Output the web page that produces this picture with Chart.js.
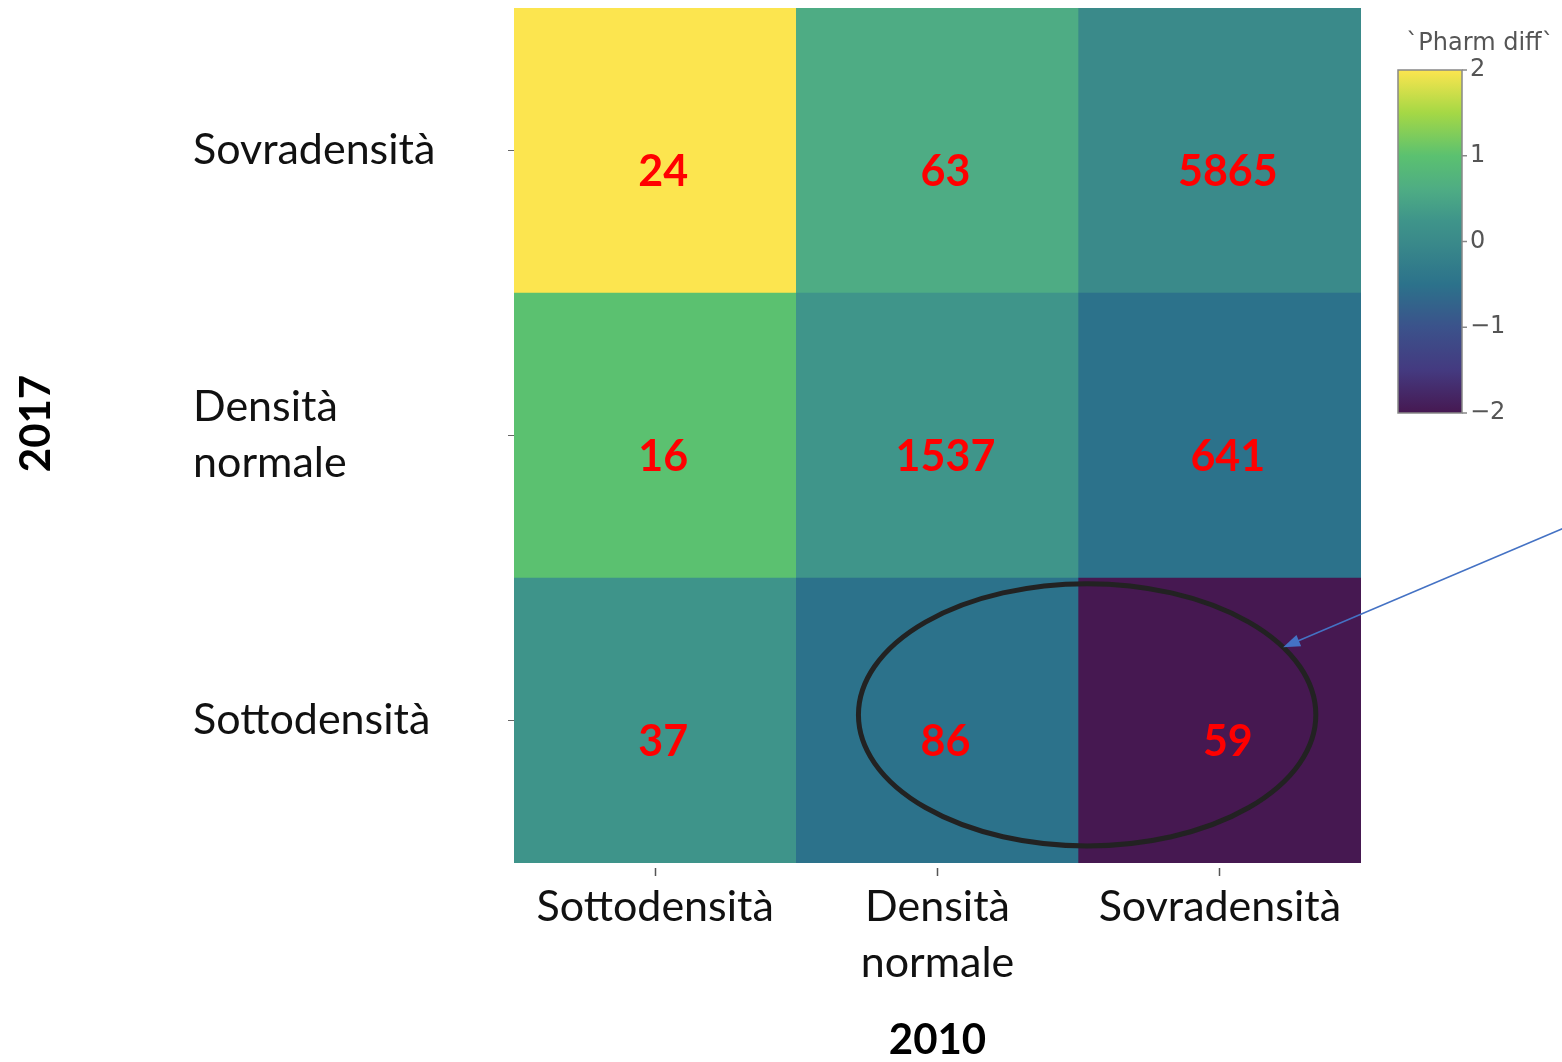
<!DOCTYPE html>
<html>
<head>
<meta charset="utf-8">
<script src="https://cdn.jsdelivr.net/npm/chart.js@4.4.0/dist/chart.umd.min.js"></script>
<style>
    html, body { margin: 0; padding: 0; background: #fff; }
    #wrap { width: 1562px; height: 1062px; }
</style>
</head>
<body>
<div id="wrap"><canvas id="heat"></canvas></div>
<script>
// ==================== DATI ====================

// colonne = 2010, righe = 2017 (righe dal basso verso l'alto)
const xCategories = ['Sottodensità', ['Densità', 'normale'], 'Sovradensità'];
const yCategories = ['Sottodensità', ['Densità', 'normale'], 'Sovradensità'];

// `Pharm diff` per riga del 2017, colonne nell'ordine di xCategories
const pharmDiffSotto   = [0.22, -0.5, -2];
const pharmDiffNormale = [1, 0.25, -0.5];
const pharmDiffSovra   = [2, 0.6, 0];

// numeri scritti nelle celle
const countsSotto   = [37, 86, 59];
const countsNormale = [16, 1537, 641];
const countsSovra   = [24, 63, 5865];

const colorbarTicks = [2, 1, 0, -1, -2];
const colorbarMin = -2;
const colorbarMax = 2;

const pharmDiffRows = [pharmDiffSotto, pharmDiffNormale, pharmDiffSovra];
const countRows = [countsSotto, countsNormale, countsSovra];

// ==================== SCALA COLORI (viridis sbiadita) ====================

const COLOR_STOPS = [
    [-2, [70, 24, 81]],
    [-1.5, [68, 58, 128]],
    [-1, [59, 82, 139]],
    [-0.5, [44, 114, 139]],
    [0, [58, 138, 138]],
    [0.25, [63, 149, 138]],
    [0.6, [78, 172, 132]],
    [1, [91, 193, 112]],
    [1.5, [165, 216, 69]],
    [2, [252, 229, 79]]
];

function colorFor(v) {
    for (let i = 0; i < COLOR_STOPS.length - 1; i++) {
        const [v0, c0] = COLOR_STOPS[i];
        const [v1, c1] = COLOR_STOPS[i + 1];
        if (v <= v1) {
            const t = Math.max(0, (v - v0) / (v1 - v0));
            const c = c0.map((ch, k) => Math.round(ch + (c1[k] - ch) * t));
            return `rgb(${c[0]},${c[1]},${c[2]})`;
        }
    }
    const c = COLOR_STOPS[COLOR_STOPS.length - 1][1];
    return `rgb(${c[0]},${c[1]},${c[2]})`;
}

// ==================== PLUGIN ====================

const overlayPlugin = {
    id: 'overlay',
    afterDatasetsDraw(chart) {
        const ctx = chart.ctx;
        const area = chart.chartArea;
        const xs = chart.scales.x;
        const ys = chart.scales.y;

        // numeri nelle celle
        ctx.save();
        ctx.font = 'bold 43px Lato';
        ctx.fillStyle = '#ff0000';
        ctx.textAlign = 'center';
        ctx.textBaseline = 'middle';
        countRows.forEach((row, r) => {
            const meta = chart.getDatasetMeta(r);
            row.forEach((n, i) => {
                const p = meta.data[i].getCenterPoint();
                ctx.fillText(String(n), p.x + 8, p.y + 22);
            });
        });
        ctx.restore();

        // ellisse attorno alle celle evidenziate
        const colW = xs.getPixelForValue(1) - xs.getPixelForValue(0);
        const rowH = ys.getPixelForValue(0) - ys.getPixelForValue(1);
        const cx = xs.getPixelForValue(0) + colW * 1.53;
        const cy = ys.getPixelForValue(0.52);
        const rx = colW * 0.81;
        const ry = rowH * 0.46;
        ctx.save();
        ctx.strokeStyle = '#222';
        ctx.lineWidth = 5;
        ctx.beginPath();
        ctx.ellipse(cx, cy, rx, ry, 0, 0, Math.PI * 2);
        ctx.stroke();
        ctx.restore();

        // freccia blu
        const ang = -31 * Math.PI / 180;
        const tipX = cx + rx * Math.cos(ang);
        const tipY = cy + ry * Math.sin(ang);
        const startX = chart.width + 2;
        const startY = area.top + 520;
        const a = Math.atan2(tipY - startY, tipX - startX);
        ctx.save();
        ctx.strokeStyle = '#4472c4';
        ctx.fillStyle = '#4472c4';
        ctx.lineWidth = 1.5;
        ctx.beginPath();
        ctx.moveTo(startX, startY);
        ctx.lineTo(tipX - 14 * Math.cos(a), tipY - 14 * Math.sin(a));
        ctx.stroke();
        ctx.beginPath();
        ctx.moveTo(tipX, tipY);
        ctx.lineTo(tipX - 17 * Math.cos(a) + 6 * Math.sin(a), tipY - 17 * Math.sin(a) - 6 * Math.cos(a));
        ctx.lineTo(tipX - 17 * Math.cos(a) - 6 * Math.sin(a), tipY - 17 * Math.sin(a) + 6 * Math.cos(a));
        ctx.closePath();
        ctx.fill();
        ctx.restore();

        // titolo asse y
        ctx.save();
        ctx.font = 'bold 42px Lato';
        ctx.fillStyle = '#000';
        ctx.textAlign = 'center';
        ctx.textBaseline = 'middle';
        ctx.translate(36, (area.top + area.bottom) / 2 - 12);
        ctx.rotate(-Math.PI / 2);
        ctx.fillText('2017', 0, 0);
        ctx.restore();

        // barra dei colori
        const cbLeft = area.right + 37;
        const cbW = 64;
        const cbTop = area.top + 62;
        const cbBottom = area.top + 405;
        const grad = ctx.createLinearGradient(0, cbTop, 0, cbBottom);
        COLOR_STOPS.forEach(([v]) => {
            grad.addColorStop((colorbarMax - v) / (colorbarMax - colorbarMin), colorFor(v));
        });
        ctx.save();
        ctx.fillStyle = grad;
        ctx.fillRect(cbLeft, cbTop, cbW, cbBottom - cbTop);
        ctx.strokeStyle = '#888';
        ctx.lineWidth = 1.5;
        ctx.strokeRect(cbLeft, cbTop, cbW, cbBottom - cbTop);
        ctx.font = '24px "DejaVu Sans"';
        ctx.fillStyle = '#555';
        ctx.textAlign = 'left';
        ctx.textBaseline = 'middle';
        colorbarTicks.forEach(t => {
            const y = cbTop + (colorbarMax - t) / (colorbarMax - colorbarMin) * (cbBottom - cbTop);
            ctx.beginPath();
            ctx.moveTo(cbLeft + cbW, y);
            ctx.lineTo(cbLeft + cbW + 5, y);
            ctx.stroke();
            ctx.fillText(t < 0 ? '\u2212' + Math.abs(t) : String(t), cbLeft + cbW + 8, y);
        });
        ctx.textAlign = 'center';
        ctx.font = '24px "DejaVu Sans"';
        ctx.fillText('`Pharm diff`', cbLeft + 82, cbTop - 26);
        ctx.restore();
    }
};

// ==================== GRAFICO ====================

const datasets = pharmDiffRows.map((row, r) => ({
    label: yCategories[r],
    data: row.map(() => [r, r + 1]),
    backgroundColor: row.map(v => colorFor(v)),
    borderWidth: 0,
    grouped: false,
    barPercentage: 1,
    categoryPercentage: 1
}));

Chart.defaults.font.family = 'Lato';

new Chart(document.getElementById('heat'), {
    type: 'bar',
    data: {
        labels: xCategories,
        datasets: datasets
    },
    options: {
        responsive: true,
        maintainAspectRatio: false,
        animation: false,
        layout: {
            padding: { left: 193, right: 201, top: 8, bottom: 0 }
        },
        plugins: {
            legend: { display: false },
            tooltip: { enabled: false }
        },
        scales: {
            x: {
                type: 'category',
                border: { display: false },
                grid: {
                    offset: false,
                    drawOnChartArea: false,
                    tickLength: 13,
                    tickColor: '#555',
                    tickBorderDash: [0, 5, 8, 0],
                    tickWidth: 1.5
                },
                ticks: {
                    color: '#111',
                    padding: 3,
                    maxRotation: 0,
                    autoSkip: false,
                    font: { size: 43, lineHeight: 1.3 }
                },
                title: {
                    display: true,
                    text: '2010',
                    color: '#000',
                    font: { size: 42, weight: 'bold', lineHeight: 1 },
                    padding: { top: 0, bottom: 1 }
                },
                afterFit(scale) {
                    scale.height = 199;
                    scale.paddingLeft = 0;
                    scale.paddingRight = 0;
                }
            },
            y: {
                type: 'linear',
                min: 0,
                max: 3,
                border: { display: false },
                grid: {
                    drawOnChartArea: false,
                    tickLength: 6,
                    tickColor: '#666'
                },
                afterBuildTicks(axis) {
                    axis.ticks = [0.5, 1.5, 2.5].map(v => ({ value: v }));
                },
                ticks: {
                    color: '#111',
                    crossAlign: 'far',
                    font: { size: 43, lineHeight: 1.3 },
                    callback: (v) => yCategories[Math.floor(v)]
                },
                afterFit(scale) {
                    scale.width = 321;
                    scale.paddingTop = 0;
                    scale.paddingBottom = 0;
                }
            }
        }
    },
    plugins: [overlayPlugin]
});
</script>
</body>
</html>
